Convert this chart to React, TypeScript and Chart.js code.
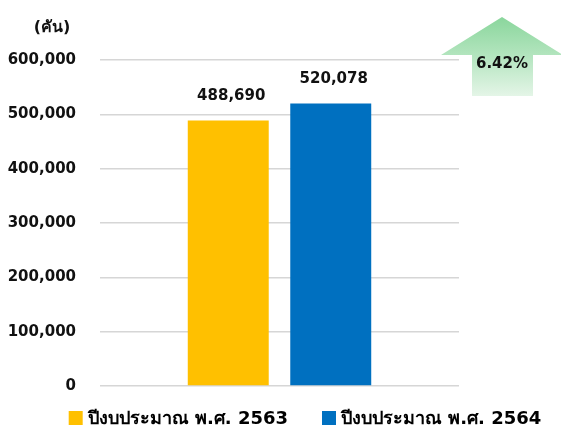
import React, { useEffect, useRef } from "react";
import { Chart, registerables } from "chart.js";

Chart.register(...registerables);

const categories = ["จำนวนรถ"];
const seriesLabels = ["ปีงบประมาณ พ.ศ. 2563", "ปีงบประมาณ พ.ศ. 2564"];
const values2563 = [488690];
const values2564 = [520078];
const seriesColors = ["#FFC000", "#0070C0"];
const yMin = 0;
const yMax = 600000;
const yStep = 100000;
const unitLabel = "(คัน)";
const changeLabel = "6.42%";

const FONT = "'DejaVu Sans', 'Noto Sans', sans-serif";
const fmt = (v: number) => v.toLocaleString("en-US");

const dataLabelPlugin = {
  id: "dataLabels",
  afterDatasetsDraw(chart: any) {
    const ctx = chart.ctx;
    ctx.save();
    ctx.font = `bold 15px ${FONT}`;
    ctx.fillStyle = "#111";
    ctx.textAlign = "center";
    ctx.textBaseline = "bottom";
    chart.data.datasets.forEach((ds: any, i: number) => {
      const meta = chart.getDatasetMeta(i);
      meta.data.forEach((el: any, j: number) => {
        ctx.fillText(fmt(ds.data[j]), el.x + 3, el.y - 17);
      });
    });
    ctx.restore();
  },
};

const decorPlugin = {
  id: "decor",
  afterDraw(chart: any) {
    const ctx = chart.ctx;
    ctx.save();
    // unit label
    ctx.font = `bold 16px ${FONT}`;
    ctx.fillStyle = "#111";
    ctx.textAlign = "center";
    ctx.textBaseline = "middle";
    ctx.fillText(unitLabel, 52, 28);

    // arrow
    const grad = ctx.createLinearGradient(0, 17, 0, 96);
    grad.addColorStop(0, "#8AD69C");
    grad.addColorStop(0.5, "#B4E5BF");
    grad.addColorStop(1, "#E4F5E7");
    ctx.beginPath();
    ctx.moveTo(502, 17);
    ctx.lineTo(563, 55);
    ctx.lineTo(533, 55);
    ctx.lineTo(533, 96);
    ctx.lineTo(472, 96);
    ctx.lineTo(472, 55);
    ctx.lineTo(441, 55);
    ctx.closePath();
    ctx.fillStyle = grad;
    ctx.fill();
    ctx.font = `bold 15px ${FONT}`;
    ctx.fillStyle = "#111";
    ctx.fillText(changeLabel, 502, 64);

    // legend
    ctx.font = `bold 18px ${FONT}`;
    ctx.textAlign = "left";
    const box = 14;
    const gapBoxText = 5;
    const gapItems = 34;
    const widths = seriesLabels.map((t) => box + gapBoxText + ctx.measureText(t).width);
    const total = widths.reduce((a, b) => a + b, 0) + gapItems * (widths.length - 1);
    let x = 305 - total / 2;
    const y = 418;
    chart.data.datasets.forEach((ds: any, i: number) => {
      ctx.fillStyle = ds.backgroundColor;
      ctx.fillRect(x, y - box / 2, box, box);
      ctx.fillStyle = "#000";
      ctx.fillText(ds.label, x + box + gapBoxText, y + 1);
      x += widths[i] + gapItems;
    });
    ctx.restore();
  },
};

export default function App() {
  const ref = useRef<HTMLCanvasElement>(null);
  useEffect(() => {
    if (!ref.current) return;
    const chart = new Chart(ref.current, {
      type: "bar",
      data: {
        labels: categories,
        datasets: [
          { label: seriesLabels[0], data: values2563, backgroundColor: seriesColors[0] },
          { label: seriesLabels[1], data: values2564, backgroundColor: seriesColors[1] },
        ],
      },
      options: {
        animation: false,
        responsive: true,
        maintainAspectRatio: false,
        layout: { padding: { top: 60, right: 102, bottom: 42, left: 0 } },
        datasets: { bar: { categoryPercentage: 0.571, barPercentage: 0.79 } },
        plugins: { legend: { display: false }, tooltip: { enabled: false } },
        scales: {
          x: { display: false },
          y: {
            min: yMin,
            max: yMax,
            afterFit: (s: any) => {
              s.width = 100;
            },
            border: { display: false },
            grid: { color: "#D6D6D6", lineWidth: 1.6, drawTicks: false },
            ticks: {
              stepSize: yStep,
              padding: 24,
              color: "#111",
              font: { family: FONT, size: 15, weight: "bold" },
              callback: (v: any) => fmt(Number(v)),
            },
          },
        },
      },
      plugins: [dataLabelPlugin, decorPlugin],
    });
    return () => chart.destroy();
  }, []);
  return (
    <div style={{ position: "fixed", left: 0, top: 0, width: 561, height: 428, background: "#fff" }}>
      <canvas ref={ref} />
    </div>
  );
}
